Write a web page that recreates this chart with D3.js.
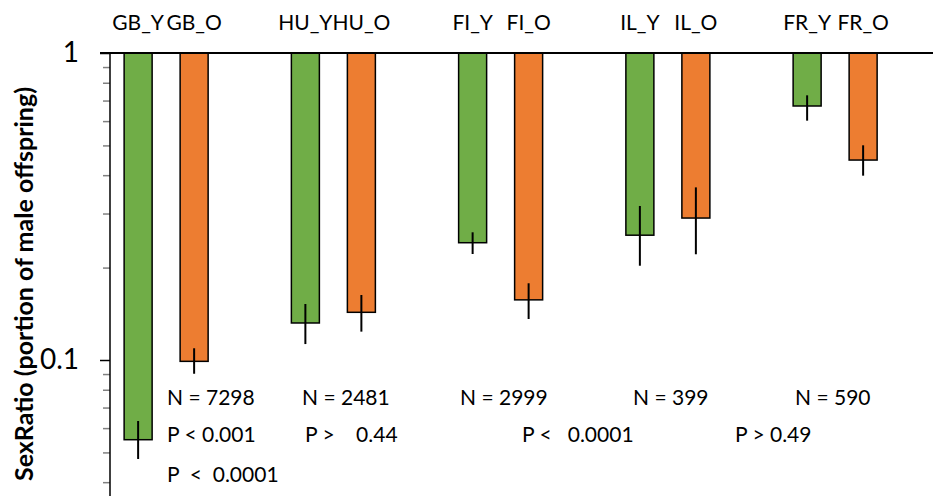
<!DOCTYPE html>
<html>
<head>
<meta charset="utf-8">
<script src="https://cdn.jsdelivr.net/npm/d3@7"></script>
<style>
  html, body { margin: 0; padding: 0; background: #fff; }
  svg { display: block; font-family: Lato, "Open Sans", sans-serif; }
  text { white-space: pre; }
</style>
</head>
<body>
<div id="chart"></div>
<script>
// data (log scale, bars hang down from 1)
const groups = ["GB", "HU", "FI", "IL", "FR"];
const ages = ["Y", "O"];
const youngVals = [0.055, 0.132, 0.241, 0.255, 0.672];
const oldVals = [0.099, 0.143, 0.157, 0.290, 0.448];
const youngLo = [0.0476, 0.1127, 0.2214, 0.2028, 0.602];
const youngHi = [0.0633, 0.1522, 0.2606, 0.3175, 0.728];
const oldLo = [0.0902, 0.1237, 0.136, 0.221, 0.3985];
const oldHi = [0.1092, 0.1628, 0.1778, 0.365, 0.5004];
const nLabels = ["N = 7298", "N = 2481", "N = 2999", "N = 399", "N = 590"];
const pLabels = ["P < 0.001", "P >    0.44", "P <   0.0001", "P > 0.49"];
const pTotal = "P  <  0.0001";
const majorTicks = [1, 0.1];
const minorTicks = [0.9, 0.8, 0.7, 0.6, 0.5, 0.4, 0.3, 0.2, 0.09, 0.08, 0.07, 0.06, 0.05, 0.04];

const width = 933, height = 496;
const colors = { Y: "#70ad47", O: "#ed7d31" };

// text placement (layout only)
const nPos = [167, 302, 460, 633, 795];
const pPos = [167, 305, 522, 735];

const bars = [];
groups.forEach((g, i) => {
    bars.push({ group: g, age: "Y", value: youngVals[i], lo: youngLo[i], hi: youngHi[i] });
    bars.push({ group: g, age: "O", value: oldVals[i], lo: oldLo[i], hi: oldHi[i] });
});

const svg = d3.select("#chart").append("svg")
    .attr("width", width)
    .attr("height", height);

let x = d3.scaleBand().domain(groups).range([82.5, 918.75]).padding(0);
let xSub = d3.scaleBand().domain(ages).range([-42, 42]).paddingInner(0.5).paddingOuter(0);
let y = d3.scaleLog().domain([0.1, 1]).range([360, 53]);

const barX = d => x(d.group) + x.bandwidth() / 2 + xSub(d.age);
const barC = d => barX(d) + xSub.bandwidth() / 2;

// minor ticks
svg.append("g")
    .attr("transform", "translate(110,0)")
    .call(d3.axisLeft(y).tickValues(minorTicks).tickSize(7).tickFormat(""))
    .call(g => g.select(".domain").remove())
    .call(g => g.selectAll("line").attr("stroke", "#808080").attr("stroke-width", 1.5));

// major ticks + labels
svg.append("g")
    .attr("transform", "translate(110,0)")
    .call(d3.axisLeft(y).tickValues(majorTicks).tickSize(10).tickPadding(21).tickFormat(d3.format("")))
    .call(g => g.select(".domain").remove())
    .call(g => g.selectAll("line").attr("stroke", "#000").attr("stroke-width", 1.5))
    .call(g => g.selectAll("text").attr("font-size", 28).attr("fill", "#000").attr("font-family", "Lato"));

// y axis line
svg.append("line")
    .attr("x1", 110).attr("x2", 110)
    .attr("y1", y(1)).attr("y2", height)
    .attr("stroke", "#000").attr("stroke-width", 1.5);

// bars
svg.append("g").selectAll("rect")
    .data(bars)
    .join("rect")
    .attr("x", barX)
    .attr("y", y(1))
    .attr("width", xSub.bandwidth())
    .attr("height", d => y(d.value) - y(1))
    .attr("fill", d => colors[d.age])
    .attr("stroke", "#000")
    .attr("stroke-width", 1.5);

// error bars
svg.append("g").selectAll("line")
    .data(bars)
    .join("line")
    .attr("x1", barC).attr("x2", barC)
    .attr("y1", d => y(d.hi))
    .attr("y2", d => y(d.lo))
    .attr("stroke", "#000")
    .attr("stroke-width", 2);

// top line at 1
svg.append("line")
    .attr("x1", 100).attr("x2", width)
    .attr("y1", y(1)).attr("y2", y(1))
    .attr("stroke", "#000").attr("stroke-width", 2);

// bar labels above
svg.append("g").selectAll("text")
    .data(bars)
    .join("text")
    .attr("x", barC)
    .attr("y", 30)
    .attr("text-anchor", "middle")
    .attr("font-size", 21)
    .text(d => d.group + "_" + d.age);

// N and P annotations
svg.append("g").selectAll("text")
    .data(nLabels)
    .join("text")
    .attr("x", (d, i) => nPos[i])
    .attr("y", 405)
    .attr("font-size", 21)
    .text(d => d);

svg.append("g").selectAll("text")
    .data(pLabels)
    .join("text")
    .attr("x", (d, i) => pPos[i])
    .attr("y", 442)
    .attr("font-size", 21)
    .text(d => d);

svg.append("text")
    .attr("x", 167)
    .attr("y", 482)
    .attr("font-size", 21)
    .text(pTotal);

// y axis title
svg.append("text")
    .attr("transform", "translate(33,284) rotate(-90)")
    .attr("text-anchor", "middle")
    .attr("font-size", 25)
    .attr("font-weight", "bold")
    .text("SexRatio (portion of male offspring)");
</script>
</body>
</html>
